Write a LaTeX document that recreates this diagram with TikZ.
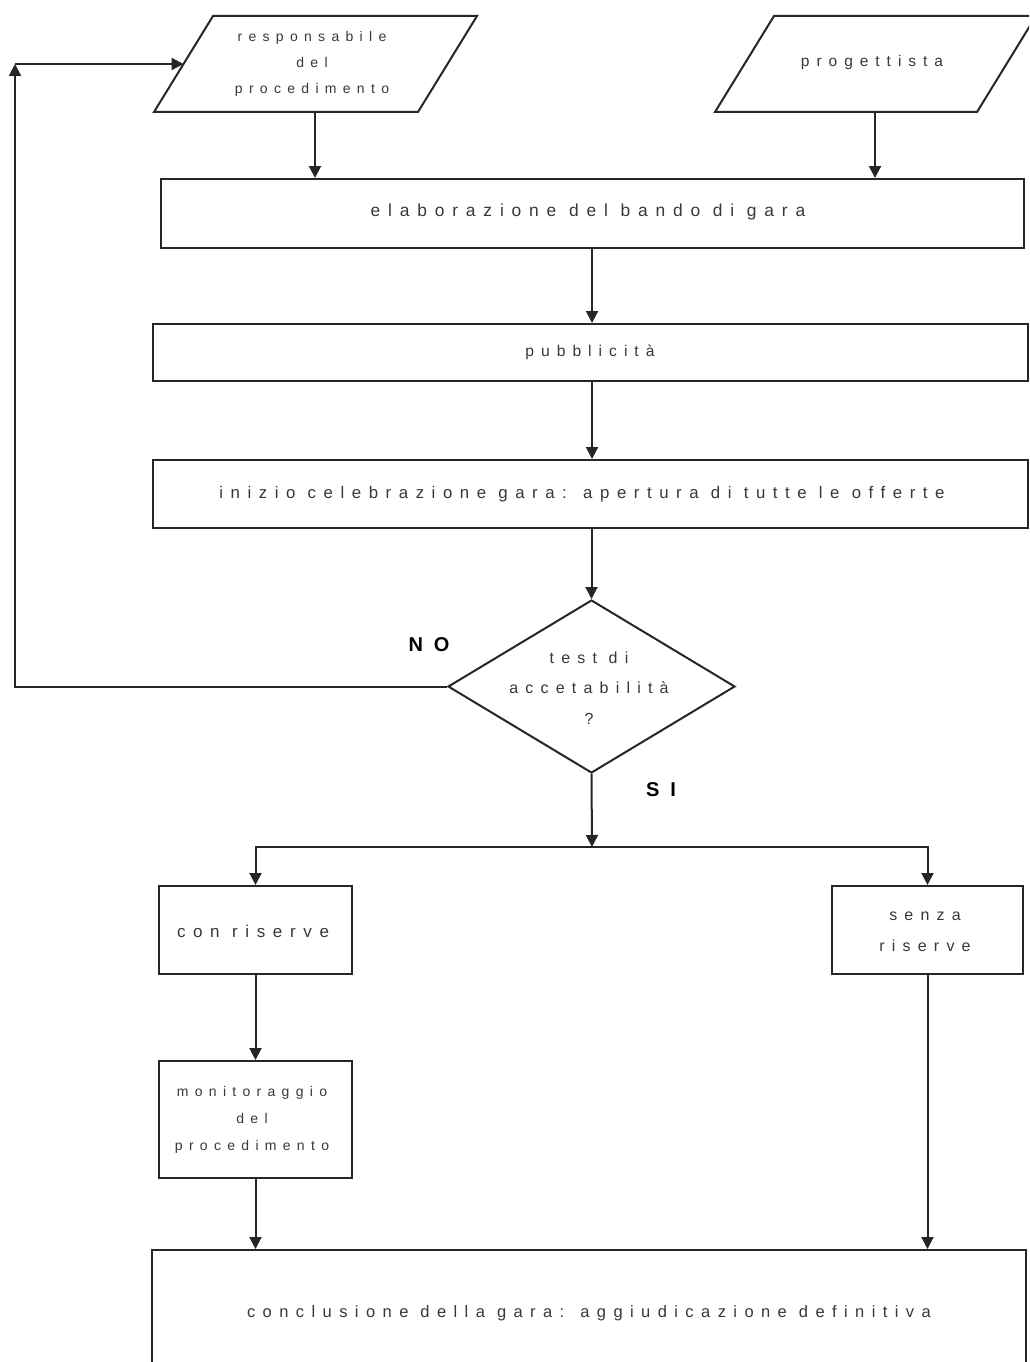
\documentclass[tikz,border=0pt]{standalone}
\usepackage{fontspec}
\usetikzlibrary{shapes.geometric,arrows.meta}
\newfontfamily\labfont[LetterSpace=45]{Liberation Sans}
\newfontfamily\yesnofont[LetterSpace=55]{Liberation Sans}
\newcommand\labsz[2]{\labfont\fontsize{#1}{#2}\selectfont}
\begin{document}
\begin{tikzpicture}[x=1pt,y=-1pt,
  line/.style={draw=black!85,line width=2pt},
  arr/.style={line,-{Triangle[length=12pt,width=12pt]}},
  lab/.style={text=black!78,font=\labsz{17}{27},align=center,inner sep=0pt},
  yn/.style={text=black,font=\yesnofont\bfseries\fontsize{20}{22}\selectfont,inner sep=0pt},
  box/.style={line,rectangle,inner sep=0pt,minimum width=#1},
]
\clip (0,0) rectangle (1029,1362);
\fill[white] (0,0) rectangle (1029,1362);

% parallelograms
\draw[line] (213,16) -- (477,16) -- (418,112) -- (154,112) -- cycle;
\coordinate (p1s) at (315,112);
\coordinate (p1w) at (183.5,64);
\node[lab,font=\labsz{14}{26}] (p1t) at (312,64) {responsabile\\del\\procedimento};

\draw[line] (774,16) -- (1036,16) -- (977,112) -- (715,112) -- cycle;
\coordinate (p2s) at (875,112);
\node[lab,font=\labsz{15.5}{27}] (p2t) at (872,62) {progettista};

% boxes
\node[box=863, minimum height=69] (elab) at (592.5,213.5) {};
\node[lab,font=\labsz{17.4}{27}] at (588,212.5) {elaborazione del bando di gara};
\node[box=875, minimum height=57] (pub) at (590.5,352.5) {};
\node[lab,font=\labsz{15.6}{27}] at (590,352) {pubblicità};
\node[box=875, minimum height=68] (ini) at (590.5,494) {};
\node[lab,font=\labsz{16.8}{27}] at (582,494) {inizio celebrazione gara: apertura di tutte le offerte};

% decision
\node[line,diamond,inner sep=0pt,minimum width=287,minimum height=173] (dia) at (591.5,686.5) {};
\node[lab,font=\labsz{16}{30.5}] at (589,688) {test di\\accetabilità\\?};
\node[yn] (no) at (429,645) {NO};
\node[yn] (si) at (661,790) {SI};

\node[box=193, minimum height=88] (con) at (255.5,930) {};
\node[lab] at (253,931) {con riserve};
\node[box=191, minimum height=88] (senza) at (927.5,930) {};
\node[lab,font=\labsz{16}{31}] at (925,932) {senza\\riserve};
\node[box=193, minimum height=117] (mon) at (255.5,1119.5) {};
\node[lab,font=\labsz{14}{27}] at (252,1120) {monitoraggio\\del\\procedimento};
\node[box=874, minimum height=126] (concl) at (589,1313) {};
\node[lab,font=\labsz{16.5}{27}] at (589,1313) {conclusione della gara: aggiudicazione definitiva};

% coordinates
\coordinate (split) at (592,847);
\coordinate (cTL) at (15,64);

% connectors
\draw[arr] (p1s) -- (p1s |- elab.north);
\draw[arr] (p2s) -- (p2s |- elab.north);
\draw[arr] (elab.south -| split) -- (pub.north -| split);
\draw[arr] (pub.south -| split) -- (ini.north -| split);
\draw[arr] (ini.south -| dia.north) -- (dia.north);
\draw[arr] (dia.west) -| (cTL);
\draw[arr] (cTL) -- (p1w);
\draw[arr] (dia.south) -- (split);
\draw[arr] (split) -| (con.north);
\draw[arr] (split) -| (senza.north);
\draw[arr] (con.south) -- (mon.north);
\draw[arr] (mon.south) -- (mon.south |- concl.north);
\draw[arr] (senza.south) -- (senza.south |- concl.north);
\end{tikzpicture}
\end{document}
